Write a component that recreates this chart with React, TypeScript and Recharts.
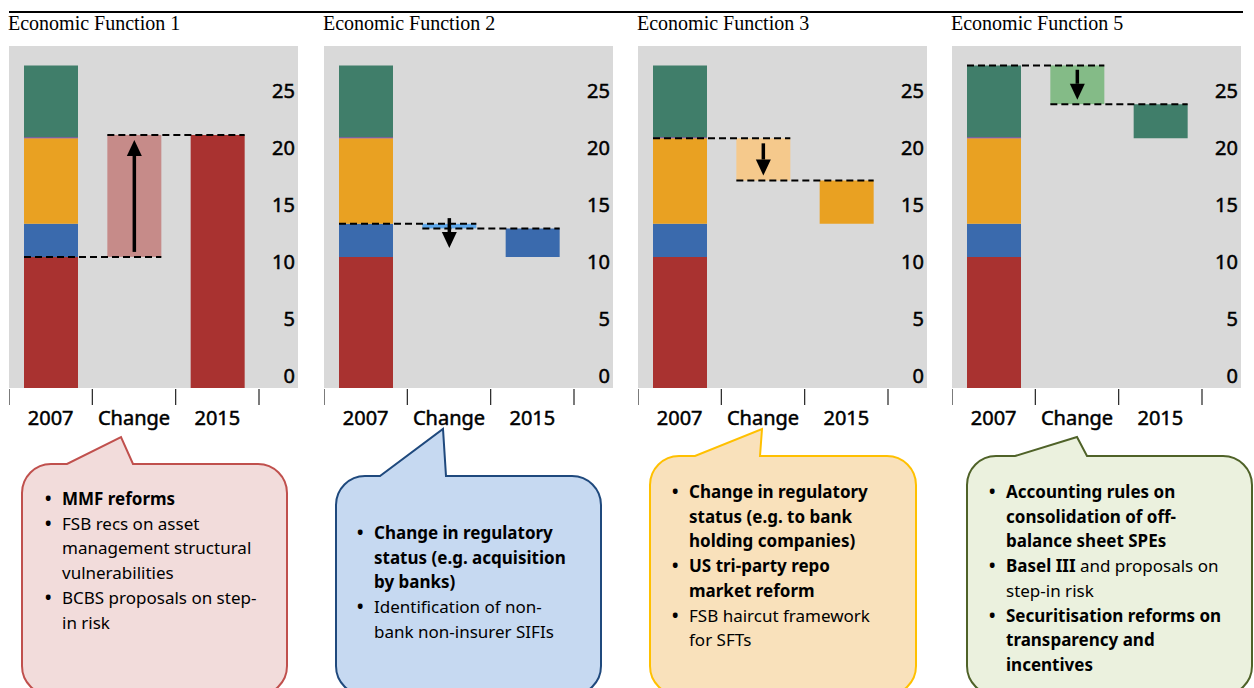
import React from "react";
import { BarChart, Bar, XAxis, YAxis } from "recharts";

const categories = ["2007", "Change", "2015"];
const panelTitles = ["Economic Function 1", "Economic Function 2", "Economic Function 3", "Economic Function 5"];

// 2007 composition (same in every panel): red, blue, orange, purple, green
const seriesKeys = ["red", "blue", "orange", "purple", "green"];
const seriesColors = ["#a93230", "#3a6aad", "#e9a122", "#7030a0", "#407e6a"];
const values2007 = [11.5, 2.9, 7.5, 0.1, 6.3];

// change bar: from -> to
const changeFrom = [11.5, 14.4, 21.9, 28.3];
const changeTo = [22.2, 14.0, 18.2, 24.9];
const changeColors = ["#c68b89", "#5fa8ea", "#f5c98c", "#84bb87"];

// 2015 bar: floating segment of one colour
const low2015 = [0, 11.5, 14.4, 21.9];
const high2015 = [22.2, 14.0, 18.2, 24.9];
const series2015 = ["red", "blue", "orange", "green"];

const yTicks = [0, 5, 10, 15, 20, 25];

const W = 289;
const PLOT_H = 342;
const AXIS_H = 45;
const YAXIS_W = 39;
const PLOT_W = W - YAXIS_W;
const STEP = PLOT_W / categories.length;
const panelLeft = [9, 324, 638, 952];
const FONT = "'Noto Sans', 'Open Sans', sans-serif";

function buildRows(p: number) {
  const row2007: any = { name: categories[0], base: 0, change: 0 };
  seriesKeys.forEach((k, i) => (row2007[k] = values2007[i]));
  const rowChange: any = {
    name: categories[1],
    base: Math.min(changeFrom[p], changeTo[p]),
    change: Math.abs(changeTo[p] - changeFrom[p]),
    up: changeTo[p] > changeFrom[p],
  };
  seriesKeys.forEach((k) => (rowChange[k] = 0));
  const row2015: any = { name: categories[2], base: low2015[p], change: 0 };
  seriesKeys.forEach((k) => (row2015[k] = k === series2015[p] ? high2015[p] - low2015[p] : 0));
  return [row2007, rowChange, row2015];
}

const ChangeShape = (props: any) => {
  const { x, y, width, height, fill, payload } = props;
  if (!payload || payload.name !== "Change" || !payload.change) return <g />;
  const top = y;
  const bottom = y + height;
  const fromY = payload.up ? bottom : top;
  const toY = payload.up ? top : bottom;
  const cx = x + width / 2;
  const dir = payload.up ? -1 : 1;
  const len = Math.max(height - 10, 30);
  const mid = (top + bottom) / 2 + (height < 30 ? 7 : 0);
  const a0 = mid - (dir * len) / 2;
  const a1 = mid + (dir * len) / 2;
  const head = 16;
  return (
    <g>
      <rect x={x} y={y} width={width} height={height} fill={fill} />
      <line x1={x - STEP} x2={x + width} y1={fromY} y2={fromY} stroke="#000" strokeWidth={2} strokeDasharray="7 4" />
      <line x1={x} x2={x + width + STEP} y1={toY} y2={toY} stroke="#000" strokeWidth={2} strokeDasharray="7 4" />
      <line x1={cx} x2={cx} y1={a0} y2={a1 - dir * head} stroke="#000" strokeWidth={3.5} />
      <polygon
        points={`${cx - 7.5},${a1 - dir * head} ${cx + 7.5},${a1 - dir * head} ${cx},${a1}`}
        fill="#000"
      />
    </g>
  );
};

const XTick = (props: any) => {
  const { x, y, payload, index } = props;
  const half = STEP / 2;
  const last = index === categories.length - 1;
  return (
    <g>
      <line x1={x - half} x2={x - half} y1={y + 1} y2={y + 17} stroke="#222" strokeWidth={1.2} />
      {last && <line x1={x + half} x2={x + half} y1={y + 1} y2={y + 17} stroke="#222" strokeWidth={1.2} />}
      <text
        x={x}
        y={y + 37}
        textAnchor="middle"
        fontSize={20}
        fontFamily={FONT}
        fill="#000"
        stroke="#000"
        strokeWidth={0.5}
      >
        {payload.value}
      </text>
    </g>
  );
};

const YTick = (props: any) => {
  const { x, y, payload } = props;
  return (
    <text
      x={x + 36}
      y={y - 5}
      textAnchor="end"
      fontSize={20}
      fontFamily={FONT}
      fill="#000"
      stroke="#000"
      strokeWidth={0.5}
    >
      {payload.value}
    </text>
  );
};

function Panel({ p }: { p: number }) {
  const rows = buildRows(p);
  const left = panelLeft[p];
  return (
    <>
      <div
        style={{
          position: "absolute",
          left: left - 1,
          top: 12,
          fontFamily: "'Liberation Serif', serif",
          fontSize: 20,
          lineHeight: "22px",
          color: "#000",
          whiteSpace: "nowrap",
        }}
      >
        {panelTitles[p]}
      </div>
      <div style={{ position: "absolute", left, top: 46, width: W, height: PLOT_H, background: "#d9d9d9" }} />
      <div style={{ position: "absolute", left, top: 46 }}>
        <BarChart
          width={W}
          height={PLOT_H + AXIS_H}
          data={rows}
          margin={{ top: 0, right: 0, bottom: 0, left: 0 }}
          barSize={54}
        >
          <XAxis
            dataKey="name"
            height={AXIS_H}
            axisLine={false}
            tickLine={false}
            tickSize={0}
            tickMargin={0}
            interval={0}
            tick={<XTick />}
          />
          <YAxis
            orientation="right"
            width={YAXIS_W}
            domain={[0, 30]}
            ticks={yTicks}
            allowDataOverflow
            axisLine={false}
            tickLine={false}
            tickSize={0}
            tickMargin={0}
            tick={<YTick />}
          />
          <Bar dataKey="base" stackId="s" fill="transparent" isAnimationActive={false} />
          {seriesKeys.map((k, i) => (
            <Bar key={k} dataKey={k} stackId="s" fill={seriesColors[i]} isAnimationActive={false} />
          ))}
          <Bar dataKey="change" stackId="s" fill={changeColors[p]} shape={ChangeShape} isAnimationActive={false} />
        </BarChart>
      </div>
    </>
  );
}

type Line = { bullet?: boolean; bold?: string; normal?: string };

const bubbles = [
  {
    box: [22, 464, 287, 695],
    tail: [67, 133, 121, 437],
    fill: "#f2dcdb",
    stroke: "#c0504d",
    textX: 62,
    firstY: 499,
    lines: [
      { bullet: true, bold: "MMF reforms" },
      { bullet: true, normal: "FSB recs on asset" },
      { normal: "management structural" },
      { normal: "vulnerabilities" },
      { bullet: true, normal: "BCBS proposals on step-" },
      { normal: "in risk" },
    ] as Line[],
  },
  {
    box: [336, 476, 601, 695],
    tail: [380, 446, 443, 429],
    fill: "#c6d9f1",
    stroke: "#1f497d",
    textX: 374,
    firstY: 533,
    lines: [
      { bullet: true, bold: "Change in regulatory" },
      { bold: "status (e.g. acquisition" },
      { bold: "by banks)" },
      { bullet: true, normal: "Identification of non-" },
      { normal: "bank non-insurer SIFIs" },
    ] as Line[],
  },
  {
    box: [650, 456, 916, 695],
    tail: [695, 760, 762, 429],
    fill: "#f9e1bb",
    stroke: "#ffc000",
    textX: 689,
    firstY: 492,
    lines: [
      { bullet: true, bold: "Change in regulatory" },
      { bold: "status (e.g. to bank" },
      { bold: "holding companies)" },
      { bullet: true, bold: "US tri-party repo" },
      { bold: "market reform" },
      { bullet: true, normal: "FSB haircut framework" },
      { normal: "for SFTs" },
    ] as Line[],
  },
  {
    box: [967, 456, 1252, 695],
    tail: [1015, 1087, 1077, 437],
    fill: "#ebf1de",
    stroke: "#4f6228",
    textX: 1006,
    firstY: 492,
    lines: [
      { bullet: true, bold: "Accounting rules on" },
      { bold: "consolidation of off-" },
      { bold: "balance sheet SPEs" },
      { bullet: true, bold: "Basel III", normal: " and proposals on" },
      { normal: "step-in risk" },
      { bullet: true, bold: "Securitisation reforms on" },
      { bold: "transparency and" },
      { bold: "incentives" },
    ] as Line[],
  },
];

function bubblePath(box: number[], tail: number[], r: number) {
  const [l, t, rt, b] = box;
  const [tl, tr, ax, ay] = tail;
  return [
    `M ${l + r} ${t}`,
    `L ${tl} ${t}`,
    `L ${ax} ${ay}`,
    `L ${tr} ${t}`,
    `L ${rt - r} ${t}`,
    `A ${r} ${r} 0 0 1 ${rt} ${t + r}`,
    `L ${rt} ${b - r}`,
    `A ${r} ${r} 0 0 1 ${rt - r} ${b}`,
    `L ${l + r} ${b}`,
    `A ${r} ${r} 0 0 1 ${l} ${b - r}`,
    `L ${l} ${t + r}`,
    `A ${r} ${r} 0 0 1 ${l + r} ${t}`,
    "Z",
  ].join(" ");
}

const LINE_GAP = 24.7;

export default function App() {
  return (
    <div
      style={{
        position: "absolute",
        left: 0,
        top: 0,
        width: 1254,
        height: 688,
        overflow: "hidden",
        background: "#fff",
      }}
    >
      <div style={{ position: "absolute", left: 9, top: 11, width: 1234, height: 2, background: "#000" }} />
      <svg width={1254} height={688} style={{ position: "absolute", left: 0, top: 0 }}>
        {bubbles.map((bb, i) => (
          <path key={i} d={bubblePath(bb.box, bb.tail, 29)} fill={bb.fill} stroke={bb.stroke} strokeWidth={2} />
        ))}
      </svg>
      {bubbles.map((bb, i) =>
        bb.lines.map((ln, j) => (
          <div
            key={`${i}-${j}`}
            style={{
              position: "absolute",
              left: bb.textX,
              top: bb.firstY + j * LINE_GAP - 12,
              height: 24,
              lineHeight: "24px",
              fontFamily: FONT,
              fontSize: 17,
              color: "#000",
              whiteSpace: "nowrap",
            }}
          >
            {ln.bullet && (
              <span style={{ position: "absolute", left: -17, top: 0, fontWeight: 700 }}>•</span>
            )}
            {ln.bold && <span style={{ fontWeight: 700 }}>{ln.bold}</span>}
            {ln.normal && <span>{ln.normal}</span>}
          </div>
        ))
      )}
      {panelTitles.map((_, p) => (
        <Panel key={p} p={p} />
      ))}
    </div>
  );
}
